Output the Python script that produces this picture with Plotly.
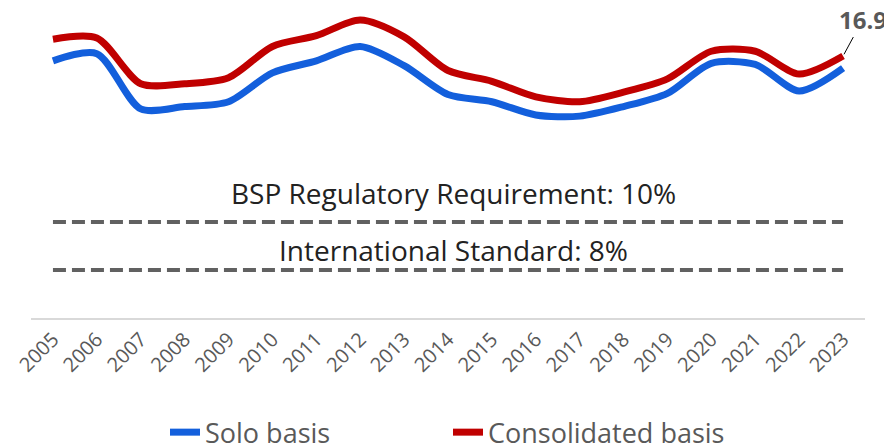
import plotly.graph_objects as go

years = [str(y) for y in range(2005, 2024)]
solo = [16.7, 17.0, 14.7, 14.8, 15.0, 16.2, 16.7, 17.3, 16.5, 15.3, 15.0, 14.45, 14.4, 14.8, 15.35, 16.6, 16.55, 15.45, 16.4]
consolidated = [17.6, 17.65, 15.75, 15.75, 16.0, 17.3, 17.75, 18.4, 17.7, 16.3, 15.85, 15.2, 15.0, 15.4, 15.95, 17.1, 17.1, 16.15, 16.9]
bsp_requirement = 10
intl_standard = 8

grey = "#595959"
font = "Open Sans"

fig = go.Figure()

# reference levels
for lvl in [bsp_requirement, intl_standard]:
    fig.add_trace(go.Scatter(
        x=years, y=[lvl] * len(years), mode="lines",
        line=dict(color="#616161", width=4, dash="13px,6px"),
        showlegend=False, hoverinfo="skip",
    ))

fig.add_trace(go.Scatter(
    x=years, y=solo, mode="lines", name="Solo basis",
    line=dict(color="#135FDC", width=7, shape="spline", smoothing=0.8),
))
fig.add_trace(go.Scatter(
    x=years, y=consolidated, mode="lines", name="Consolidated basis",
    line=dict(color="#C00000", width=7, shape="spline", smoothing=0.8),
))

fig.add_annotation(x=0.506, xref="paper", y=bsp_requirement + 1.2, yref="y",
                   text="BSP Regulatory Requirement: 10%", showarrow=False,
                   font=dict(family=font, size=28, color="#222222"))
fig.add_annotation(x=0.506, xref="paper", y=intl_standard + 0.83, yref="y",
                   text="International Standard: 8%", showarrow=False,
                   font=dict(family=font, size=28, color="#222222"))

# last value label (category index, since year strings look numeric)
fig.add_annotation(x=len(years) - 1, y=consolidated[-1], text="<b>%.1f</b>" % consolidated[-1],
                   showarrow=True, arrowhead=0, arrowwidth=1, arrowcolor="black",
                   ax=20, ay=-37, standoff=2,
                   font=dict(family=font, size=24, color=grey))

# page body adds an 8px margin, so the figure is 8px smaller each way
fig.update_layout(
    width=884, height=440,
    margin=dict(l=23, r=27, t=0, b=130),
    plot_bgcolor="white", paper_bgcolor="white",
    font=dict(family=font, color=grey),
    legend=dict(orientation="h", x=0.5, xanchor="center", yref="container", y=0.035, yanchor="middle",
                entrywidth=238, font=dict(size=27, color=grey)),
    xaxis=dict(type="category", range=[-0.5, 18.5], tickangle=-45, automargin=False,
               showline=True, linecolor="#d9d9d9", linewidth=1.5,
               showgrid=False, ticks="", tickfont=dict(size=20, color=grey)),
    yaxis=dict(range=[6, 18.9], visible=False, showgrid=False, automargin=False),
)

fig.write_html("out.html")
